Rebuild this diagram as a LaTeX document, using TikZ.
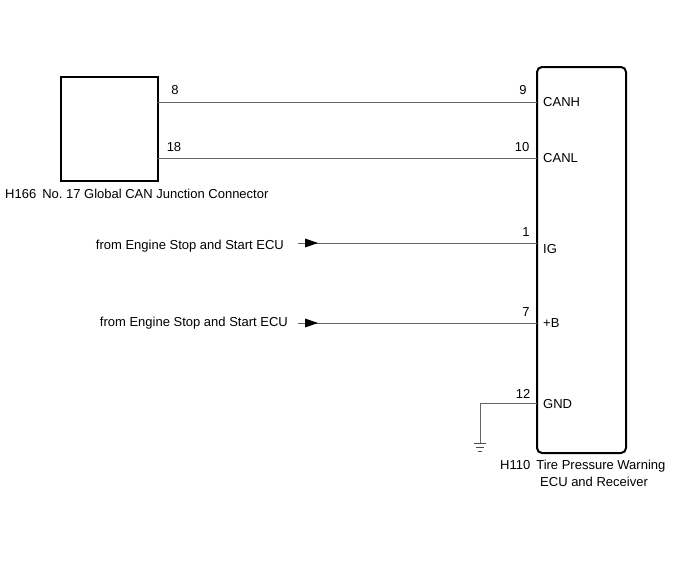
\documentclass[tikz,border=0pt]{standalone}
\usepackage{fontspec}
\setmainfont{Liberation Sans}
\frenchspacing
\begin{document}
\begin{tikzpicture}[x=1pt,y=-1pt,
  box/.style={draw=black,line width=2pt},
  wire/.style={draw=black!60,line width=1pt},
  lbl/.style={font=\fontsize{13}{15}\selectfont,inner sep=0pt},
  arr/.style={fill=black,draw=none}]
\useasboundingbox (0,0) rectangle (688,560);
% left connector
\node[box,minimum width=97pt,minimum height=104pt,inner sep=0pt] (jc) at (109.5,129) {};
\node[lbl,anchor=west] (jclbl) at (5,194) {H166\hspace{6pt}No.\ 17 Global CAN Junction Connector};
% ECU box
\node[box,rounded corners=5pt,minimum width=89pt,minimum height=386pt,inner sep=0pt] (ecu) at (581.5,260) {};
\node[lbl,anchor=west] (ecul1) at (500,466) {H110\hspace{6pt}Tire Pressure Warning};
\node[lbl,anchor=west] (ecul2) at (540,482) {ECU and Receiver};
% pins
\coordinate (j8) at (158,102);
\coordinate (j18) at (158,158);
\coordinate (e9) at (537,102);
\coordinate (e10) at (537,158);
\coordinate (e1) at (537,243);
\coordinate (e7) at (537,323);
\coordinate (e12) at (537,403);
\draw[wire] (j8) -- (e9);
\draw[wire] (j18) -- (e10);
\node[lbl] (n8) at (175,90) {8};
\node[lbl] (n18) at (174,147) {18};
\node[lbl] (n9) at (523,90) {9};
\node[lbl] (n10) at (522,147) {10};
\node[lbl] (n1) at (526,232) {1};
\node[lbl] (n7) at (526,312) {7};
\node[lbl] (n12) at (523,394) {12};
\node[lbl,anchor=west] (canh) at (543,102) {CANH};
\node[lbl,anchor=west] (canl) at (543,158) {CANL};
\node[lbl,anchor=west] (ig) at (543,249) {IG};
\node[lbl,anchor=west] (pb) at (543,323) {+B};
\node[lbl,anchor=west] (gnd) at (543,404) {GND};
% inputs
\node[lbl,anchor=east] (src1) at (284,246) {from Engine Stop and Start ECU};
\node[lbl,anchor=east] (src2) at (288,323) {from Engine Stop and Start ECU};
\coordinate (s1) at (298,243);
\coordinate (s2) at (298,323);
\draw[wire] (s1) -- (e1);
\draw[wire] (s2) -- (e7);
\fill[arr] (305,238.5) -- (318,243) -- (305,247.5) -- cycle;
\fill[arr] (305,318.5) -- (318,323) -- (305,327.5) -- cycle;
% ground
\coordinate (g0) at (480,403);
\coordinate (g1) at (480,443);
\draw[wire] (e12) -- (g0) -- (g1);
\draw[black!70,line width=1pt] (474,443) -- (486,443);
\draw[black!70,line width=1pt] (476,447) -- (484,447);
\draw[black!70,line width=1pt] (478,451) -- (482,451);
\end{tikzpicture}
\end{document}
